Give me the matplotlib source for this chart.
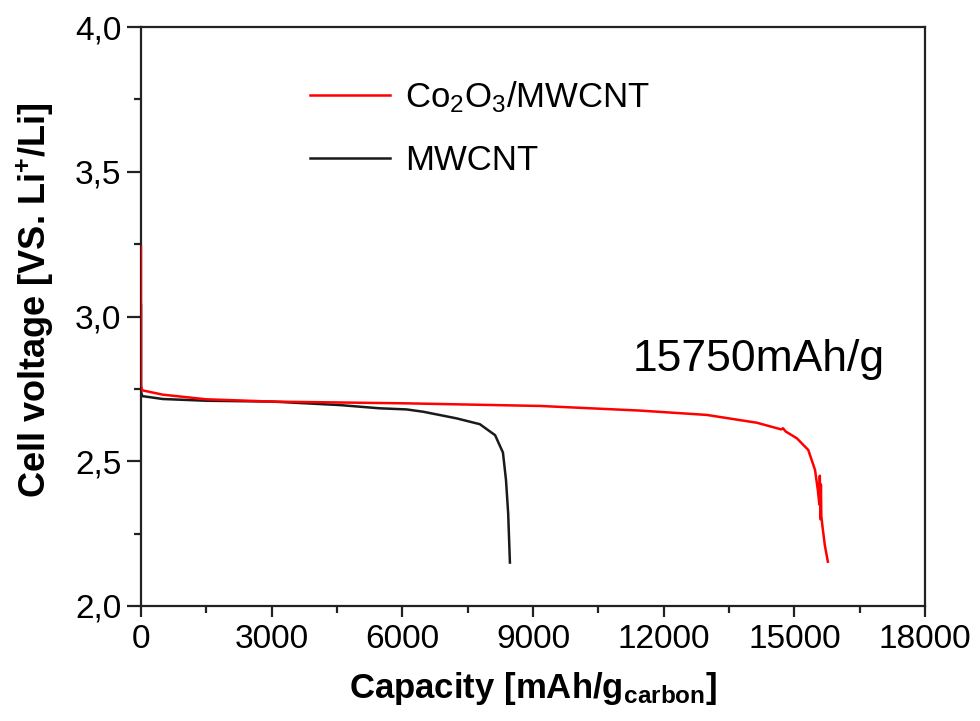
import matplotlib
matplotlib.use("Agg")
import matplotlib.pyplot as plt
from matplotlib.ticker import MultipleLocator, FuncFormatter

plt.rcParams['font.family'] = ['Liberation Sans', 'DejaVu Sans']
plt.rcParams['mathtext.fontset'] = 'custom'
plt.rcParams['mathtext.rm'] = 'Liberation Sans'
plt.rcParams['mathtext.bf'] = 'Liberation Sans:bold'
plt.rcParams['mathtext.it'] = 'Liberation Sans:italic'

# Co2O3/MWCNT discharge curve
co_capacity = [0, 0, 30, 500, 1500, 3030, 6100, 9160, 11460, 12990, 14140, 14700,
               14740, 14800, 15060, 15320, 15475, 15540, 15575, 15585, 15600,
               15610, 15620, 15650, 15700, 15770]
co_voltage = [3.24, 2.76, 2.745, 2.73, 2.714, 2.706, 2.700, 2.691, 2.675, 2.660,
              2.633, 2.610, 2.614, 2.603, 2.579, 2.539, 2.470, 2.400, 2.350,
              2.450, 2.300, 2.420, 2.310, 2.270, 2.210, 2.153]

# MWCNT discharge curve
mw_capacity = [0, 0, 30, 500, 1500, 3030, 4570, 5470, 6100, 6480, 7250, 7620,
               7780, 8130, 8310, 8380, 8430, 8470]
mw_voltage = [3.04, 2.74, 2.725, 2.715, 2.709, 2.706, 2.694, 2.683, 2.679, 2.671,
              2.648, 2.634, 2.628, 2.590, 2.530, 2.435, 2.320, 2.150]

labels = [r'Co$_2$O$_3$/MWCNT', 'MWCNT']
annotation = '15750mAh/g'

fig = plt.figure(figsize=(9.8, 7.21), dpi=100)
ax = fig.add_axes([141/980, 1-606/721, (925-141)/980, (606-27)/721])

ax.plot(co_capacity, co_voltage, color='#ff0000', lw=1.8, label=labels[0], zorder=3)
ax.plot(mw_capacity, mw_voltage, color='#1a1a1a', lw=1.8, label=labels[1], zorder=2)

ax.set_xlim(0, 18000)
ax.set_ylim(2.0, 4.0)
ax.xaxis.set_major_locator(MultipleLocator(3000))
ax.xaxis.set_minor_locator(MultipleLocator(1500))
ax.yaxis.set_major_locator(MultipleLocator(0.5))
ax.yaxis.set_minor_locator(MultipleLocator(0.25))
ax.yaxis.set_major_formatter(FuncFormatter(lambda v, p: f'{v:.1f}'.replace('.', ',')))
ax.xaxis.set_major_formatter(FuncFormatter(lambda v, p: f'{int(round(v))}'))

for s in ax.spines.values():
    s.set_linewidth(1.6)
    s.set_color('#222222')

ax.tick_params(which='major', direction='out', width=1.6, labelsize=24, color='#222222')
ax.tick_params(axis='y', which='major', length=10, pad=4)
ax.tick_params(axis='x', which='major', length=8, pad=5)
ax.tick_params(which='minor', direction='out', length=5, width=1.6, color='#222222')

ax.set_xlabel(r'Capacity $\mathbf{[mAh/g_{carbon}]}$', fontsize=25, fontweight='bold',
              labelpad=11)
ax.set_ylabel(r'Cell voltage [VS. Li$^{\mathbf{+}}$/Li]', fontsize=26, fontweight='bold')
ax.yaxis.set_label_coords(-0.109, 0.528)

ax.legend(loc='upper left', bbox_to_anchor=((310-141)/784, (606-79)/579),
          frameon=False, fontsize=25, handlelength=2.3, handletextpad=0.43,
          labelspacing=0.85, borderpad=0, borderaxespad=0)

ax.text((759-141)/784, (606-360)/579, annotation, transform=ax.transAxes, fontsize=32,
        ha='center', va='center')

fig.savefig('out.png', dpi=100)
